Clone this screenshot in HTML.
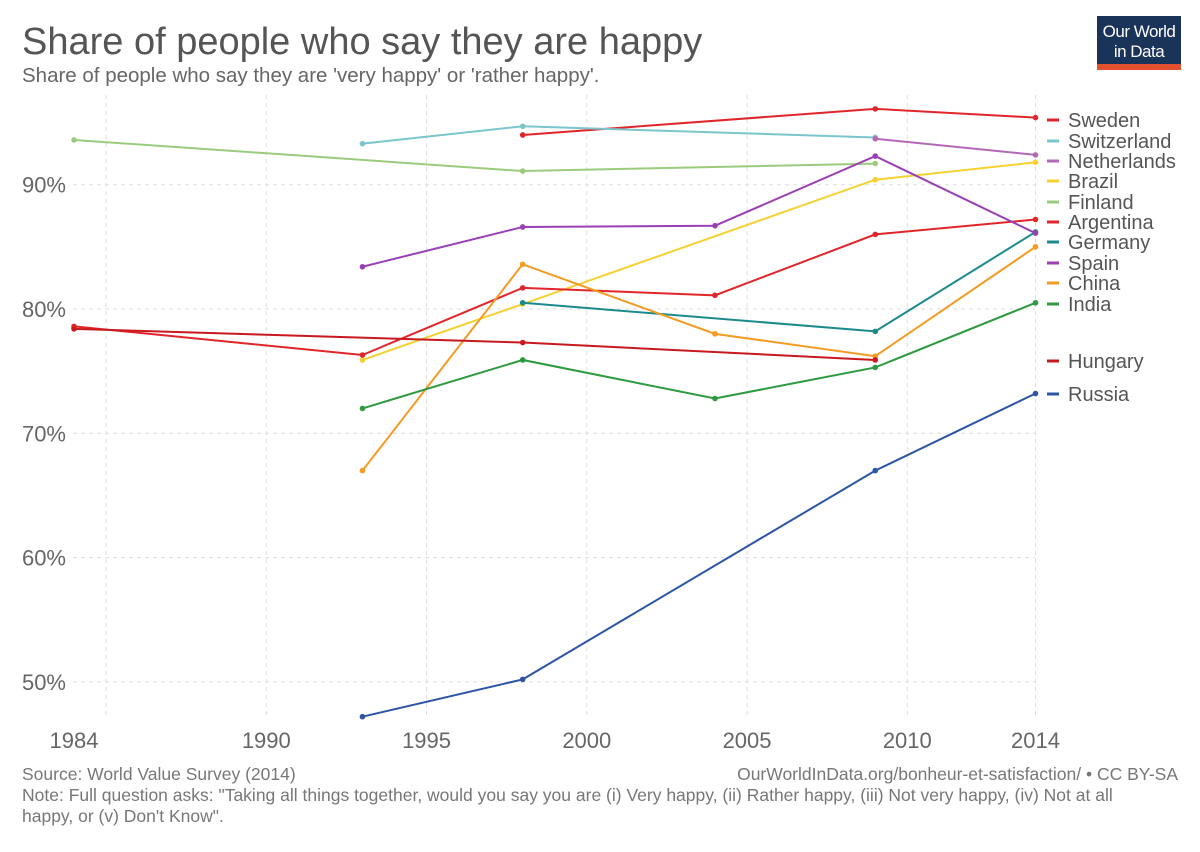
<!DOCTYPE html>
<html><head><meta charset="utf-8"><style>
body{margin:0;background:#fff;font-family:"Liberation Sans",sans-serif;}
</style></head><body>
<svg id="chart" width="1200" height="847" xmlns="http://www.w3.org/2000/svg" style="font-family:'Liberation Sans',sans-serif">
<text x="22" y="54" font-size="38" fill="#555">Share of people who say they are happy</text>
<text x="22" y="82" font-size="20.5" fill="#666">Share of people who say they are 'very happy' or 'rather happy'.</text>
<g>
<rect x="1097" y="16" width="84" height="54" fill="#1a3358"/>
<rect x="1097" y="64" width="84" height="6" fill="#e2502d"/>
<text x="1139" y="37" font-size="17" fill="#fff" text-anchor="middle" letter-spacing="-0.5">Our World</text>
<text x="1139" y="57" font-size="17" fill="#fff" text-anchor="middle" letter-spacing="-0.5">in Data</text>
</g>
<g id="grid"></g><g id="lines"></g><g id="legend"></g>
<text x="22" y="780" font-size="17.5" fill="#777">Source: World Value Survey (2014)</text>
<text x="1178" y="780" font-size="17.5" fill="#777" text-anchor="end">OurWorldInData.org/bonheur-et-satisfaction/ • CC BY-SA</text>
<text x="22" y="801" font-size="17.5" fill="#777">Note: Full question asks: "Taking all things together, would you say you are (i) Very happy, (ii) Rather happy, (iii) Not very happy, (iv) Not at all</text>
<text x="22" y="822" font-size="17.5" fill="#777">happy, or (v) Don't Know".</text>
</svg>
<script>
const xTicks=[1984,1990,1995,2000,2005,2010,2014];
const xGrid=[1985,1990,1995,2000,2005,2010,2014];
const yTicks=[50,60,70,80,90];
const names=["Sweden","Switzerland","Netherlands","Brazil","Finland","Argentina","Germany","Spain","China","India","Hungary","Russia"];
const colors=["#e0262a","#7ac6cb","#b469b7","#f5d132","#9bcc7e","#e0262a","#1c8a8c","#9b3fb5","#f39b23","#2e9a40","#c8191e","#2c55a5"];
const years=[
[1998,2009,2014],[1993,1998,2009],[2009,2014],[1993,1998,2009,2014],[1984,1998,2009],
[1984,1993,1998,2004,2009,2014],[1998,2009,2014],[1993,1998,2004,2009,2014],[1993,1998,2004,2009,2014],
[1993,1998,2004,2009,2014],[1984,1998,2009],[1993,1998,2009,2014]];
const values=[
[94.0,96.1,95.4],[93.3,94.7,93.8],[93.7,92.4],[75.9,80.4,90.4,91.8],[93.6,91.1,91.7],
[78.6,76.3,81.7,81.1,86.0,87.2],[80.5,78.2,86.2],[83.4,86.6,86.7,92.3,86.1],[67.0,83.6,78.0,76.2,85.0],
[72.0,75.9,72.8,75.3,80.5],[78.4,77.3,75.9],[47.2,50.2,67.0,73.2]];
const legendY=[120,141,161,181,202,222,242,263,283,304,361,394];
const NS="http://www.w3.org/2000/svg";
const X=y=>74+(y-1984)*32.05;
const Y=v=>309-(v-80)*12.43;
function mk(t,a,p){const e=document.createElementNS(NS,t);for(const k in a)e.setAttribute(k,a[k]);p.appendChild(e);return e;}
const g=document.getElementById('grid'),L=document.getElementById('lines'),lg=document.getElementById('legend');
xGrid.forEach(t=>{const l=mk('line',{x1:X(t),x2:X(t),y1:95,y2:715,stroke:'#ddd','stroke-dasharray':'4,4'},g);

});
yTicks.forEach(t=>{const l=mk('line',{x1:73,x2:1035,y1:Y(t),y2:Y(t),stroke:'#ddd','stroke-dasharray':'4,4'},g);


const tx=mk('text',{x:66,y:Y(t)+8,'font-size':22,fill:'#666','text-anchor':'end'},g);tx.textContent=t+'%';

});
xTicks.forEach(t=>{const tx=mk('text',{x:X(t),y:748,'font-size':22,fill:'#666','text-anchor':'middle'},g);tx.textContent=t;

});
names.forEach((n,i)=>{
const pts=years[i].map((y,j)=>X(y)+','+Y(values[i][j])).join(' ');
const pl=mk('polyline',{points:pts,fill:'none',stroke:colors[i],'stroke-width':2},L);


years[i].forEach((y,j)=>{const c=mk('circle',{cx:X(y),cy:Y(values[i][j]),r:2.8,fill:colors[i]},L);

});
const ln=mk('line',{x1:1047,x2:1059,y1:legendY[i],y2:legendY[i],stroke:colors[i],'stroke-width':3},lg);


const tx=mk('text',{x:1068,y:legendY[i]+7,'font-size':20,fill:'#555'},lg);tx.textContent=n;


});
</script>
</body></html>
